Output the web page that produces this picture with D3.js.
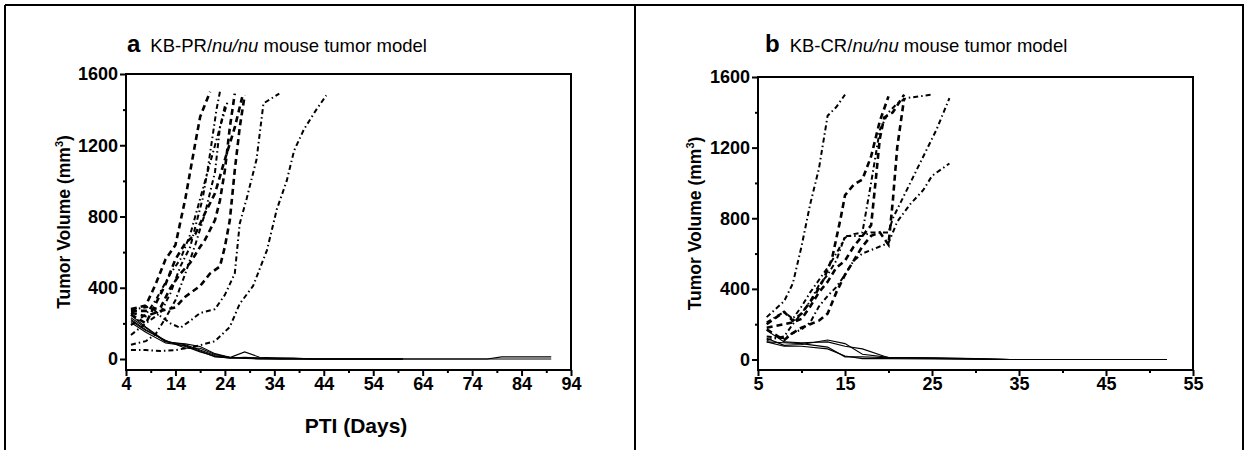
<!DOCTYPE html>
<html>
<head>
<meta charset="utf-8">
<script src="https://cdn.jsdelivr.net/npm/d3@7/dist/d3.min.js"></script>
<style>
  body { margin: 0; background: #fff; }
  svg { font-family: "Liberation Sans", Arial, sans-serif; }
</style>
</head>
<body>
<div id="chart"></div>
<script>
// tick labels
const yTicks = [0, 400, 800, 1200, 1600];
const yMinor = [200, 600, 1000, 1400];
const aXTicks = [4, 14, 24, 34, 44, 54, 64, 74, 84, 94];
const aXMinor = [9, 19, 29, 39, 49, 59, 69, 79, 89];
const bXTicks = [5, 15, 25, 35, 45, 55];
const bXMinor = [10, 20, 30, 40, 50];

// panel a  KB-PR  [day, volume]
const aDashed = [
  [[5,280],[8,300],[10,420],[12,560],[14,640],[16,900],[18,1210],[19,1360],[21,1500]],
  [[5,270],[8,270],[11,290],[13,400],[15,480],[17,540],[19,630],[20,670],[22,780],[23,890],[24,1060],[25,1300],[26,1490]],
  [[5,260],[8,240],[11,270],[14,290],[16,350],[19,410],[21,480],[23,520],[24,630],[25,780],[26,1060],[27,1300],[28,1480]],
  [[5,250],[8,200],[10,310],[12,420],[14,560],[16,650],[18,700],[20,820],[22,930],[24,1120],[26,1300],[27.5,1470]]
];
const aDashDot = [
  [[5,135],[8,200],[11,260],[13,370],[15,520],[17,630],[18,740],[19.5,900],[20.5,1060],[21.3,1210],[22.3,1400],[23,1500]],
  [[5,190],[8,250],[10,330],[13,480],[15,560],[17,700],[19,900],[21,1100],[23,1300],[24.5,1440]],
  [[5,275],[7,285],[9,294],[11,240],[13,200],[15,175],[17,215],[19,258],[22,280],[24,360],[26,480],[27,760],[28.4,900],[30.4,1120],[31.8,1435],[35,1490]],
  [[5,50],[8,50],[11,45],[14,50],[18,70],[22,100],[25,180],[27,310],[29.7,410],[32.5,610],[34.5,840],[36.5,1000],[38,1170],[40,1290],[42.5,1400],[44.5,1480]],
  [[5,80],[8,100],[10,140],[12,230],[14,330],[16,480],[18,640],[20,820],[22,1050],[23,1300],[24,1420]]
];
const aSolid = [
  [[5,245],[8,180],[12,100],[16,80],[19,50],[22,20],[25,8],[28,40],[31,10],[35,5],[42,0],[90,0]],
  [[5,232],[8,175],[12,95],[16,85],[19,70],[22,30],[25,10],[28,8],[31,5],[38,5],[42,0],[77,0],[80,12],[90,12]],
  [[5,222],[8,165],[12,100],[16,70],[19,40],[22,15],[25,5],[28,10],[35,0],[60,0]],
  [[5,215],[8,160],[12,105],[16,60],[19,60],[22,25],[25,10],[31,0],[60,0]],
  [[5,205],[8,150],[12,90],[16,75],[19,45],[22,12],[26,5],[33,0],[60,0]]
];

// panel b  KB-CR  [day, volume]
const bDashed = [
  [[6,200],[8,270],[9,220],[10,260],[11.5,360],[12.5,450],[13.5,570],[14.5,800],[15,930],[16,990],[17,1020],[18,1150],[19,1350],[20,1490]],
  [[6,180],[8,200],[9,210],[10,230],[11,300],[12,380],[13,440],[14,520],[15,560],[16,640],[17,700],[18,760],[18.5,1000],[19,1250],[19.5,1370],[20.5,1400],[21.8,1500]],
  [[6,170],[8,110],[9,150],[10,180],[11,200],[12,220],[13,260],[14,380],[15,480],[16,560],[17,640],[18,700],[19,720],[20,650],[20.5,900],[21,1200],[21.8,1480]]
];
const bDashDot = [
  [[6,240],[8,330],[9,430],[10,640],[11,880],[12,1080],[12.5,1230],[13,1380],[14,1430],[15,1500]],
  [[6,110],[8,130],[9,200],[10,260],[11,330],[12,420],[13,480],[14,560],[15,700],[17,700],[18,720],[20,720],[20.5,800],[21.5,900],[22.5,1000],[24,1150],[25.5,1300],[27,1480]],
  [[6,130],[8,120],[9,150],[10,170],[11,210],[12,300],[13,360],[14,410],[15,480],[16,560],[17,600],[18,620],[19,640],[20,660],[21,780],[22.5,880],[24,960],[25,1040],[27,1110]],
  [[6,210],[8,270],[9,230],[10,300],[11,380],[12,450],[13,520],[14,600],[15,690],[16,710],[17,720],[18,1000],[19,1300],[20,1400],[21,1450],[22,1480],[25,1500]]
];
const bSolid = [
  [[6,165],[8,100],[10,95],[13,100],[15,75],[17,60],[20,10],[25,8],[29,5],[34,0],[52,0]],
  [[6,120],[8,80],[10,85],[13,110],[15,90],[17,30],[20,12],[25,10],[30,5],[34,0],[52,0]],
  [[6,100],[8,95],[10,90],[13,70],[15,15],[17,15],[20,10],[27,5],[34,0]],
  [[6,100],[8,75],[10,75],[13,60],[15,20],[17,5],[20,5],[25,3],[34,0]]
];

const W = 1249, H = 450;
const svg = d3.select('#chart').append('svg')
  .attr('width', W).attr('height', H);

// outer cell borders
const border = [[5,5,1244,5],[5,5,5,450],[635,5,635,450],[1243,5,1243,450]];
svg.selectAll('line.border').data(border).enter().append('line')
  .attr('x1', d => d[0]).attr('y1', d => d[1]).attr('x2', d => d[2]).attr('y2', d => d[3])
  .attr('stroke', '#000').attr('stroke-width', 2);

function drawPanel(p) {
  const x = d3.scaleLinear().domain(p.xDomain).range([p.left, p.right]);
  const y = d3.scaleLinear().domain([0, 1600]).range([p.zero, p.top]);
  const g = svg.append('g');
  const axisY = p.axisY;

  // title
  const t = g.append('text').attr('x', p.titleX).attr('y', 52).attr('font-size', 18.5);
  t.append('tspan').attr('font-weight', 'bold').attr('font-size', 24).text(p.letter);
  t.append('tspan').attr('dx', 10).text(p.name + '/');
  t.append('tspan').attr('font-style', 'italic').text('nu/nu');
  t.append('tspan').text(' mouse tumor model');

  // frame
  g.append('path')
    .attr('d', `M${p.left},${axisY}V${p.top}H${p.right}V${axisY}Z`)
    .attr('fill', 'none').attr('stroke', '#000').attr('stroke-width', 2);

  // axes
  const ya = g.append('g').attr('transform', `translate(${p.left},0)`)
    .call(d3.axisLeft(y).tickValues(yTicks).tickSize(6).tickFormat(d3.format('d')));
  const ym = g.append('g').attr('transform', `translate(${p.left},0)`)
    .call(d3.axisLeft(y).tickValues(yMinor).tickSize(3).tickFormat(''));
  const xa = g.append('g').attr('transform', `translate(0,${axisY})`)
    .call(d3.axisBottom(x).tickValues(p.xTicks).tickSize(6).tickFormat(d3.format('d')));
  const xm = g.append('g').attr('transform', `translate(0,${axisY})`)
    .call(d3.axisBottom(x).tickValues(p.xMinor).tickSize(3).tickFormat(''));
  [ya, ym, xa, xm].forEach(a => {
    a.select('.domain').remove();
    a.selectAll('line').attr('stroke', '#000').attr('stroke-width', 2);
    a.selectAll('text').attr('fill', '#000').attr('font-size', 18).attr('font-weight', 'bold')
      .attr('font-family', '"Liberation Sans", Arial, sans-serif');
  });
  ya.selectAll('text').attr('x', -8);
  xa.selectAll('text').attr('y', 7);

  // y label
  const yl = g.append('text')
    .attr('transform', `translate(${p.yLabelX},${(p.top + axisY) / 2}) rotate(-90)`)
    .attr('text-anchor', 'middle').attr('font-size', 17.5).attr('font-weight', 'bold');
  yl.append('tspan').text('Tumor Volume (mm');
  yl.append('tspan').attr('dy', -7).attr('font-size', 11).text('3');
  yl.append('tspan').attr('dy', 7).text(')');

  if (p.xLabel) {
    g.append('text').attr('x', p.xLabelX).attr('y', 433)
      .attr('text-anchor', 'middle').attr('font-size', 21).attr('font-weight', 'bold')
      .text(p.xLabel);
  }

  const line = d3.line().x(d => x(d[0])).y(d => y(d[1]));
  const plot = g.append('g').attr('fill', 'none').attr('stroke', '#000');
  plot.selectAll('path.solid').data(p.solid).enter().append('path')
    .attr('d', line).attr('stroke-width', 1.1);
  plot.selectAll('path.dashdot').data(p.dashDot).enter().append('path')
    .attr('d', line).attr('stroke-width', 2).attr('stroke-dasharray', '5,3,1.5,3');
  plot.selectAll('path.dashed').data(p.dashed).enter().append('path')
    .attr('d', line).attr('stroke-width', 2.6).attr('stroke-dasharray', '6,4');
}

drawPanel({
  letter: 'a', name: 'KB-PR', titleX: 127,
  xDomain: [4, 94], left: 126, right: 571, top: 74, zero: 359, axisY: 370,
  xTicks: aXTicks, xMinor: aXMinor, yLabelX: 70, xLabel: 'PTI (Days)', xLabelX: 356,
  solid: aSolid, dashed: aDashed, dashDot: aDashDot
});
drawPanel({
  letter: 'b', name: 'KB-CR', titleX: 765,
  xDomain: [5, 55], left: 758, right: 1193, top: 77, zero: 359.5, axisY: 370,
  xTicks: bXTicks, xMinor: bXMinor, yLabelX: 701, xLabel: null,
  solid: bSolid, dashed: bDashed, dashDot: bDashDot
});
</script>
</body>
</html>
